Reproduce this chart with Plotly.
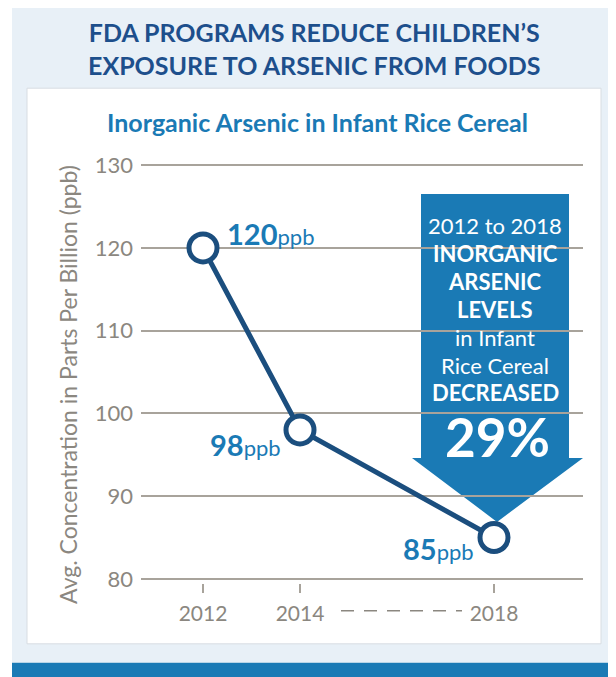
import plotly.graph_objects as go

# ---- data ----
years = [2012, 2014, 2018]
ppb = [120, 98, 85]
value_labels = ["120", "98", "85"]
tick_years = [2012, 2014, 2018]
tick_labels = ["2012", "2014", "2018"]
y_ticks = [80, 90, 100, 110, 120, 130]
title_lines = ["FDA PROGRAMS REDUCE CHILDREN’S", "EXPOSURE TO ARSENIC FROM FOODS"]
subtitle = "Inorganic Arsenic in Infant Rice Cereal"
y_title = "Avg. Concentration in Parts Per Billion (ppb)"
arrow_lines = [("2012 to 2018", False), ("INORGANIC", True), ("ARSENIC", True),
               ("LEVELS", True), ("in Infant", False), ("Rice Cereal", False),
               ("DECREASED", True)]
arrow_pct = "29%"

FONT = "Lato"
DARK = "#1d4f8c"
BLUE = "#1a7ab5"
LINE = "#1b4e7e"
GREY = "#8b8780"
GRID = "#a8a39b"
LIGHT = "#e8f0f7"

OFF = 8  # page body margin
W, H = 616 - OFF, 677 - OFF
PPU = 8.28  # pixels per ppb unit
PL, PR = 141, 583
PT, PB = 165 - 0.5 * PPU, 579 + 0.5 * PPU  # plot area in window pixels
L, R, T, B = PL - OFF, 616 - PR, PT - OFF, 677 - PB


def px(x):
    return (x - PL) / (PR - PL)


def py(y):
    return (PB - y) / (PB - PT)


fig = go.Figure()
fig.add_trace(go.Scatter(
    x=years, y=ppb, mode="lines+markers",
    line=dict(color=LINE, width=5),
    marker=dict(symbol="circle", size=28, color="white",
                line=dict(color=LINE, width=5)),
    hoverinfo="skip", showlegend=False,
))

shapes = [
    dict(type="rect", xref="paper", yref="paper", x0=px(12), x1=px(640),
         y0=py(663), y1=py(5), fillcolor=LIGHT, line_width=0, layer="below"),
    dict(type="rect", xref="paper", yref="paper", x0=px(12), x1=px(640),
         y0=py(700), y1=py(663), fillcolor=BLUE, line_width=0, layer="below"),
    dict(type="rect", xref="paper", yref="paper", x0=px(27), x1=px(601),
         y0=py(644), y1=py(88), fillcolor="white",
         line=dict(color="#d8dde2", width=1), layer="below"),
    # arrow
    dict(type="path", xref="paper", yref="paper", layer="between",
         path=(f"M {px(421)},{py(194)} L {px(569)},{py(194)} L {px(569)},{py(458)} "
               f"L {px(583)},{py(458)} L {px(497)},{py(522)} L {px(412)},{py(458)} "
               f"L {px(421)},{py(458)} Z"),
         fillcolor=BLUE, line_width=0),
    # dashed connector between 2014 and 2018 labels
    dict(type="line", xref="paper", yref="paper", x0=px(341), x1=px(462),
         y0=py(611), y1=py(611), line=dict(color=GREY, width=1.5, dash="13px,10px")),
]

ann = []
ann.append(dict(xref="paper", yref="paper", x=px(314), y=py(48),
                text="<br>".join(title_lines), showarrow=False,
                font=dict(family=FONT, size=25, color=DARK, weight="bold"),
                xanchor="center", yanchor="middle", align="center"))
ann.append(dict(xref="paper", yref="paper", x=px(317), y=py(122), text=subtitle,
                showarrow=False, font=dict(family=FONT, size=25, color=BLUE, weight="bold"),
                xanchor="center", yanchor="middle"))
ann.append(dict(xref="paper", yref="paper", x=px(68), y=py(385), text=y_title,
                textangle=-90, showarrow=False,
                font=dict(family=FONT, size=23, color=GREY),
                xanchor="center", yanchor="middle"))

# value labels
offsets = [("left", 22, 14), ("right", -17, -15), ("right", -18, -11)]
for xv, yv, lab, (anc, dx, dy) in zip(years, ppb, value_labels, offsets):
    ann.append(dict(x=xv, y=yv, xref="x", yref="y",
                    text=f"<b>{lab}</b><span style='font-size:22px'>ppb</span>",
                    showarrow=False, xanchor=anc, yanchor="middle",
                    xshift=dx, yshift=dy,
                    font=dict(family=FONT, size=29, color=BLUE)))

# arrow text
line_y = [225, 253, 281, 309, 337, 365, 393]
for (txt, bold), yy in zip(arrow_lines, line_y):
    ann.append(dict(xref="paper", yref="paper", x=px(495), y=py(yy), text=txt,
                    showarrow=False, xanchor="center", yanchor="middle",
                    font=dict(family=FONT, size=22, color="white",
                              weight="bold" if bold else "normal")))
ann.append(dict(xref="paper", yref="paper", x=px(497), y=py(437), text=arrow_pct,
                showarrow=False, xanchor="center", yanchor="middle",
                font=dict(family=FONT, size=53, color="white", weight="bold")))

x0_year = 2012 + (PL - 203) / 48.5
x1_year = 2012 + (PR - 203) / 48.5

fig.update_layout(
    width=W, height=H,
    margin=dict(l=L, r=R, t=T, b=B, pad=0),
    paper_bgcolor="white", plot_bgcolor="rgba(0,0,0,0)",
    shapes=shapes, annotations=ann, showlegend=False,
    xaxis=dict(range=[x0_year, x1_year], tickvals=tick_years, ticktext=tick_labels,
               showgrid=False, zeroline=False, showline=False,
               ticks="outside", ticklen=9, tickwidth=2, tickcolor=GRID,
               ticklabelstandoff=3,
               tickfont=dict(family=FONT, size=21, color=GREY), fixedrange=True),
    yaxis=dict(range=[79.5, 130.5], tickvals=y_ticks, showgrid=True, gridcolor=GRID,
               gridwidth=2, zeroline=False, showline=False, ticks="",
               ticklabelstandoff=7,
               tickfont=dict(family=FONT, size=22, color=GREY), fixedrange=True),
)

fig.write_html("out.html")
